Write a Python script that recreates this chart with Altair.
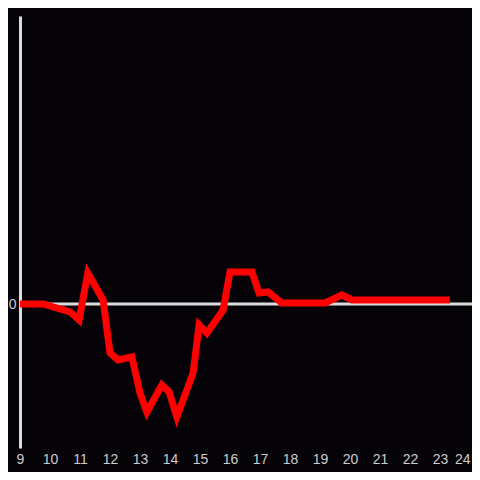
import altair as alt
import pandas as pd

hours = [9.0, 9.77, 10.67, 10.97, 11.26, 11.77, 12.0, 12.27, 12.73, 13.0, 13.23,
         13.73, 13.97, 14.23, 14.77, 14.97, 15.23, 15.77, 16.0, 16.73, 16.97,
         17.27, 17.73, 19.17, 19.73, 20.07, 23.33]
values = [0, 0, -8, -16, 31, 4, -49, -56, -53, -89, -108,
          -81, -88, -113, -69, -21, -29, -6, 32, 32, 11,
          12, 1, 1, 9, 4, 4]
x_ticks = list(range(9, 25))

df = pd.DataFrame({"hour": hours, "value": values})
zero = pd.DataFrame({"y": [0]})

W, H = 452, 432
AX = "#dcdcdc"

line = alt.Chart(df).mark_line(color="#ff0000", strokeWidth=7, strokeCap="butt", strokeJoin="miter").encode(
    x=alt.X("hour:Q", scale=alt.Scale(domain=[9, 24 + 2 / 30], nice=False, zero=False),
            axis=alt.Axis(values=x_ticks, title=None, domain=False, ticks=False, grid=False,
                          labelColor="#cccccc", labelFontSize=14, labelFont="Liberation Sans",
                          labelPadding=4, labelOverlap=False, labelFlush=False,
                          labelAlign=alt.expr("datum.value == 24 ? 'right' : 'center'"))),
    y=alt.Y("value:Q", scale=alt.Scale(domain=[-144, 288], nice=False, zero=False),
            axis=alt.Axis(values=[0], title=None, domain=True, domainColor=AX, domainWidth=3,
                          ticks=False, grid=False, labelColor="#cccccc", labelFontSize=14,
                          labelFont="Liberation Sans", labelPadding=4)),
)

rule = alt.Chart(zero).mark_rule(color=AX, strokeWidth=3).encode(y=alt.Y("y:Q"))

chart = alt.layer(rule, line).properties(
    width=W, height=H,
    background="#050307",
    autosize=alt.AutoSizeParams(type="none"),
    padding={"left": 12, "top": 8, "right": 0, "bottom": 24},
).configure_view(stroke=None)

chart.save("out.html", embed_options={"renderer": "svg", "actions": False})
